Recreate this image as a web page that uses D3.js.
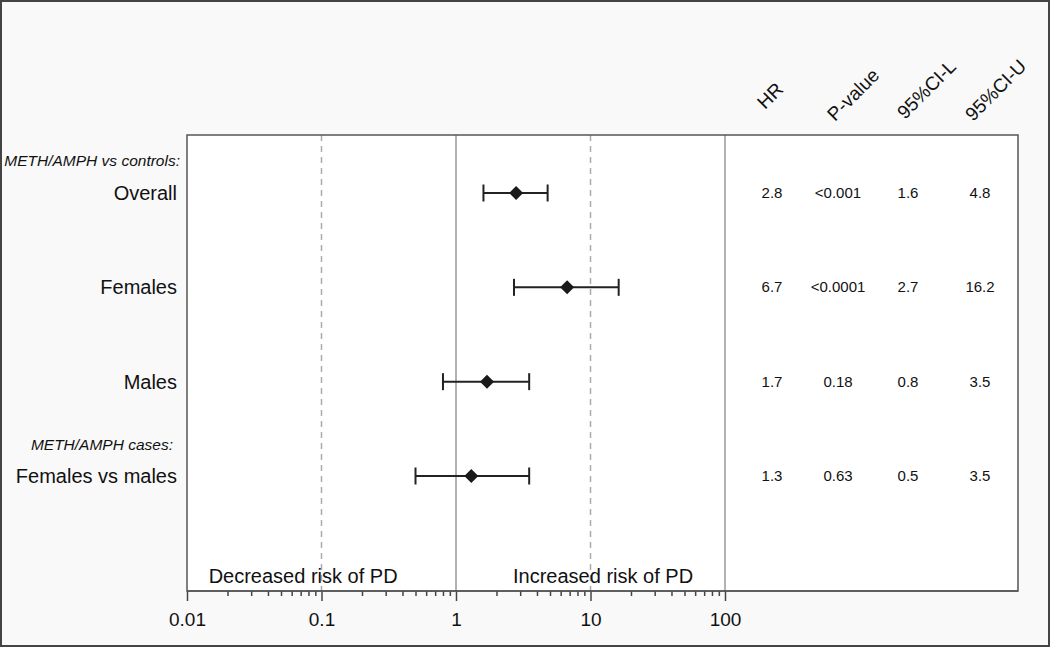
<!DOCTYPE html>
<html><head><meta charset="utf-8">
<script src="https://cdn.jsdelivr.net/npm/d3@7"></script>
<style>html,body{margin:0;padding:0;background:#fff}svg{display:block}text{font-family:"Liberation Sans",Arial,sans-serif;fill:#111}</style>
</head><body>
<svg id="c" width="1050" height="647"></svg>
<script>
const rowLabels = ["Overall", "Females", "Males", "Females vs males"];
const hr = [2.8, 6.7, 1.7, 1.3];
const pValues = ["<0.001", "<0.0001", "0.18", "0.63"];
const ciLower = [1.6, 2.7, 0.8, 0.5];
const ciUpper = [4.8, 16.2, 3.5, 3.5];
const groupLabels = ["METH/AMPH vs controls:", "METH/AMPH cases:"];
const groupRows = [0, 3];
const tableHeaders = ["HR", "P-value", "95%CI-L", "95%CI-U"];
const tickValues = [0.01, 0.1, 1, 10, 100];
const tickLabels = ["0.01", "0.1", "1", "10", "100"];
const solidRefs = [1, 100];
const dashedRefs = [0.1, 10];
const regionLabels = ["Decreased risk of PD", "Increased risk of PD"];
const regionCenters = [0.073, 12.4];

const svg = d3.select("#c");
const W = 1050, H = 647;
svg.append("rect").attr("x",1).attr("y",1).attr("width",W-2).attr("height",H-2)
  .attr("fill","#f9f9f9").attr("stroke","#444").attr("stroke-width",2);

const box = {l:187, r:1018, t:135, b:591};
svg.append("rect").attr("x",box.l).attr("y",box.t).attr("width",box.r-box.l).attr("height",box.b-box.t)
  .attr("fill","#fff");

const x = d3.scaleLog().domain([0.01, 100]).range([187, 725]);
const y = d3.scalePoint().domain(rowLabels).range([193, 476]);

// reference lines
svg.selectAll(".sref").data(solidRefs).join("line")
  .attr("x1",d=>x(d)).attr("x2",d=>x(d)).attr("y1",box.t).attr("y2",box.b)
  .attr("stroke","#999").attr("stroke-width",1.5);
svg.selectAll(".dref").data(dashedRefs).join("line")
  .attr("x1",d=>x(d)).attr("x2",d=>x(d)).attr("y1",box.t).attr("y2",box.b)
  .attr("stroke","#aaa").attr("stroke-width",1.5).attr("stroke-dasharray","6,5");

// box border
svg.append("rect").attr("x",box.l).attr("y",box.t).attr("width",box.r-box.l).attr("height",box.b-box.t)
  .attr("fill","none").attr("stroke","#555").attr("stroke-width",1.5);

// axis
const minorTicks = [];
for (let e=-2; e<2; e++) for (let m=2; m<=9; m++) minorTicks.push(m*Math.pow(10,e));
const axisG = svg.append("g").attr("transform",`translate(0,${box.b})`);
axisG.call(d3.axisBottom(x).tickValues(minorTicks).tickSize(5).tickFormat(""));
axisG.call(g=>g.select(".domain").remove());
const majorG = svg.append("g").attr("transform",`translate(0,${box.b})`);
majorG.call(d3.axisBottom(x).tickValues(tickValues).tickSize(10).tickPadding(12)
  .tickFormat((d,i)=>tickLabels[i]));
majorG.select(".domain").remove();
svg.selectAll(".tick line").attr("stroke","#444").attr("stroke-width",1.5);
majorG.selectAll(".tick text").attr("font-size",19).attr("fill","#111")
  .attr("font-family","'Liberation Sans',Arial,sans-serif");
svg.append("line").attr("x1",box.l).attr("x2",box.r).attr("y1",box.b).attr("y2",box.b)
  .attr("stroke","#555").attr("stroke-width",1.5);

// region labels
svg.selectAll(".reg").data(regionLabels).join("text")
  .attr("x",(d,i)=>x(regionCenters[i])).attr("y",583).attr("text-anchor","middle")
  .attr("font-size",20).text(d=>d);

// row labels
svg.selectAll(".rl").data(rowLabels).join("text")
  .attr("x",177).attr("y",d=>y(d)+7).attr("text-anchor","end").attr("font-size",20).text(d=>d);
svg.selectAll(".gl").data(groupLabels).join("text")
  .attr("x",(d,i)=>i===0?180:173).attr("y",(d,i)=>y(rowLabels[groupRows[i]])-(i===0?27:26))
  .attr("text-anchor","end").attr("font-size",15.5).attr("font-style","italic").text(d=>d);

// error bars
const rows = rowLabels.map((r,i)=>({r, hr:hr[i], lo:ciLower[i], hi:ciUpper[i], p:pValues[i]}));
const eg = svg.append("g").attr("stroke","#222").attr("stroke-width",2);
eg.selectAll(".ci").data(rows).join("line")
  .attr("x1",d=>x(d.lo)).attr("x2",d=>x(d.hi)).attr("y1",d=>y(d.r)).attr("y2",d=>y(d.r));
eg.selectAll(".capl").data(rows).join("line")
  .attr("x1",d=>x(d.lo)).attr("x2",d=>x(d.lo)).attr("y1",d=>y(d.r)-8.5).attr("y2",d=>y(d.r)+8.5);
eg.selectAll(".capu").data(rows).join("line")
  .attr("x1",d=>x(d.hi)).attr("x2",d=>x(d.hi)).attr("y1",d=>y(d.r)-8.5).attr("y2",d=>y(d.r)+8.5);
svg.selectAll(".dia").data(rows).join("path")
  .attr("d",d=>{const cx=x(d.hr), cy=y(d.r), s=7; return `M${cx},${cy-s}L${cx+s},${cy}L${cx},${cy+s}L${cx-s},${cy}Z`;})
  .attr("fill","#1a1a1a");

// table
const colX = [772, 838, 908, 980];
const headerAnchor = [[765,110],[835,122],[905,120],[973,122]];
svg.selectAll(".th").data(tableHeaders).join("text")
  .attr("transform",(d,i)=>`translate(${headerAnchor[i][0]},${headerAnchor[i][1]}) rotate(-45)`)
  .attr("font-size",19).text(d=>d);
const fmt = v => String(v);
rows.forEach((d,i)=>{
  const vals = [fmt(d.hr), d.p, fmt(d.lo), fmt(d.hi)];
  svg.selectAll(null).data(vals).join("text")
    .attr("x",(v,j)=>colX[j]).attr("y",y(d.r)+5).attr("text-anchor","middle")
    .attr("font-size",15).text(v=>v);
});
</script>
</body></html>
